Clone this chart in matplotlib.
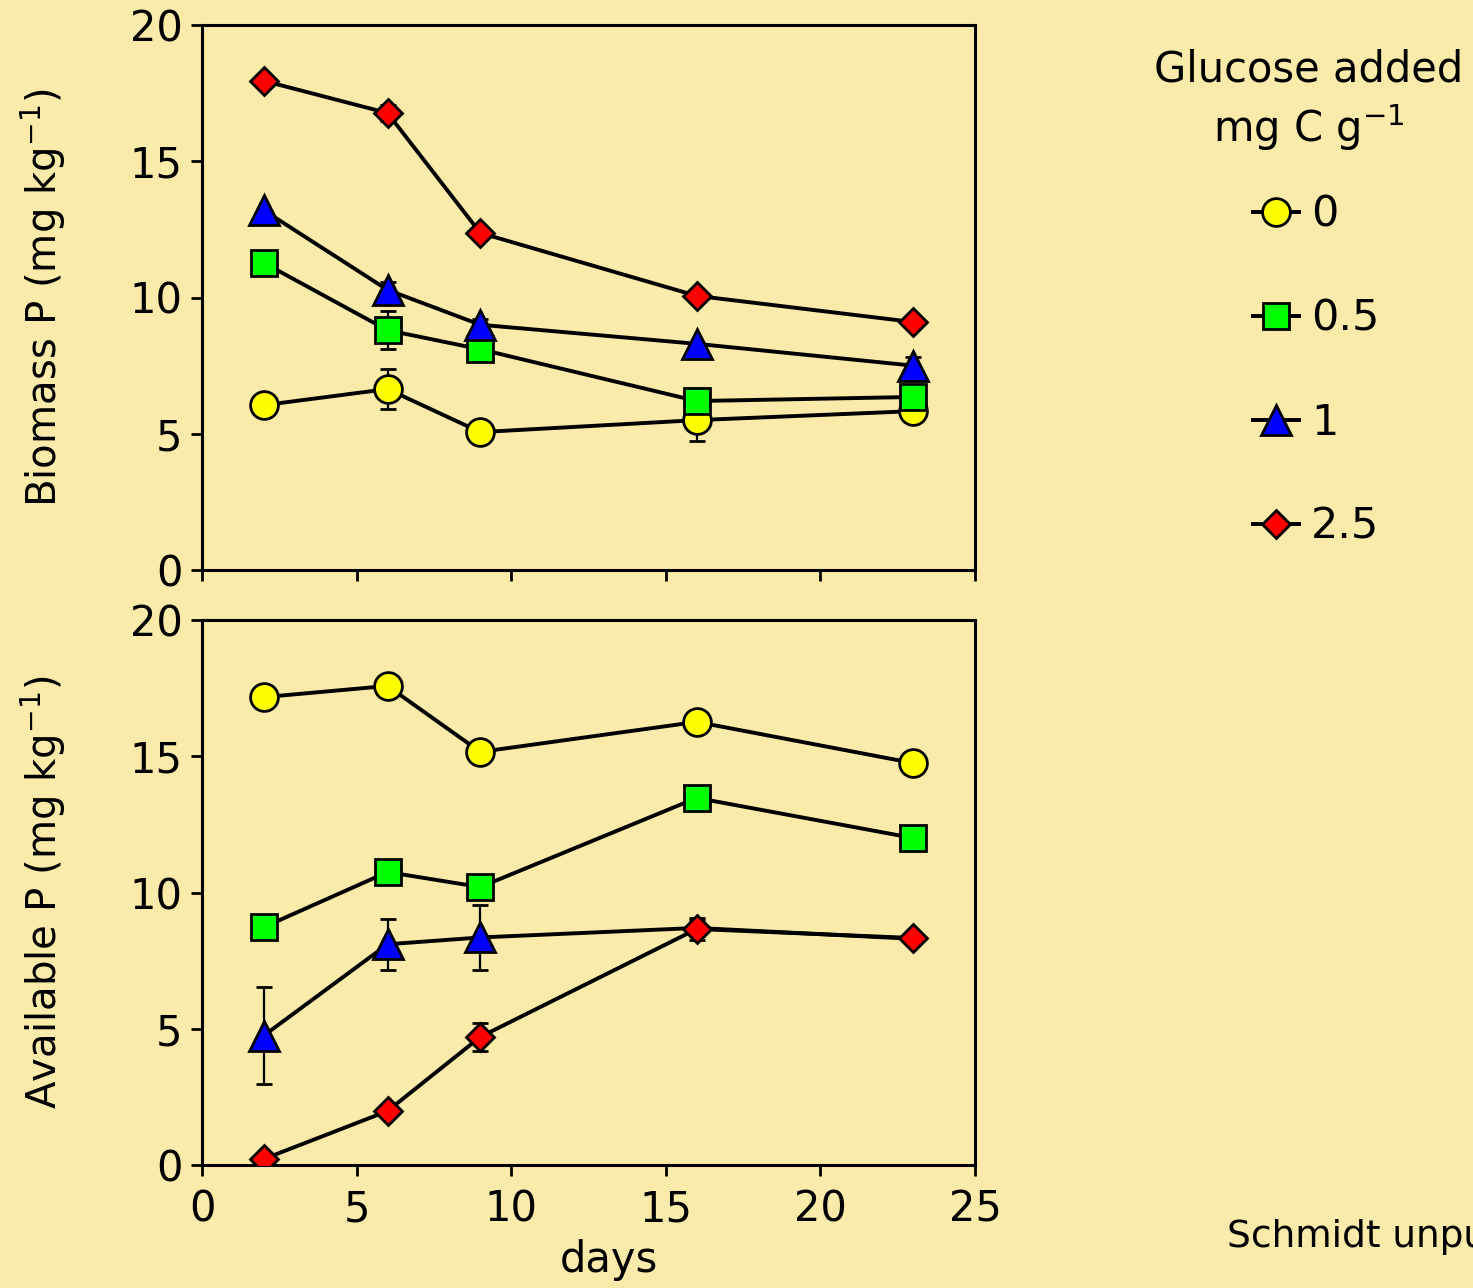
import matplotlib
matplotlib.use('Agg')
import matplotlib.pyplot as plt
import numpy as np

plt.rcParams['font.family'] = ['DejaVu Sans']
plt.rcParams['mathtext.fontset'] = 'dejavusans'

days = [2, 6, 9, 16, 23]
doses = ['0', '0.5', '1', '2.5']

# biomass P (mg/kg)
bio = {
    '0':   [6.05, 6.64, 5.06, 5.5, 5.83],
    '0.5': [11.27, 8.8, 8.1, 6.2, 6.35],
    '1':   [13.2, 10.28, 9.0, 8.3, 7.5],
    '2.5': [17.95, 16.77, 12.37, 10.06, 9.1],
}
bio_err = {
    '0':   [0, 0.75, 0, 0.75, 0.2],
    '0.5': [0, 0.7, 0, 0.3, 0],
    '1':   [0, 0.3, 0.2, 0, 0.3],
    '2.5': [0, 0.3, 0, 0, 0],
}

# available P (mg/kg)
avail = {
    '0':   [17.17, 17.58, 15.16, 16.26, 14.75],
    '0.5': [8.73, 10.75, 10.2, 13.47, 12.0],
    '1':   [4.75, 8.1, 8.35, 8.7, 8.3],
    '2.5': [0.22, 1.98, 4.7, 8.66, 8.33],
}
avail_err = {
    '0':   [0, 0, 0, 0, 0],
    '0.5': [0, 0.35, 0, 0.3, 0],
    '1':   [1.78, 0.93, 1.19, 0.3, 0],
    '2.5': [0, 0, 0.5, 0.4, 0],
}

styles = {
    '0':   dict(marker='o', color='#FFFF00', ms=20),
    '0.5': dict(marker='s', color='#00FF00', ms=19),
    '1':   dict(marker='^', color='#0000FF', ms=21),
    '2.5': dict(marker='D', color='#FF0000', ms=14),
}

bg = '#FAEBAA'
W, H = 1473, 1288
fig = plt.figure(figsize=(W / 100, H / 100), dpi=100, facecolor=bg)

ax1 = fig.add_axes([202 / W, 1 - 570 / H, 773 / W, 545 / H], facecolor=bg)
ax2 = fig.add_axes([202 / W, 1 - 1165 / H, 773 / W, 545 / H], facecolor=bg)

handles = []
for ax, data, err in [(ax1, bio, bio_err), (ax2, avail, avail_err)]:
    for d in doses:
        st = styles[d]
        ax.errorbar(days, data[d], yerr=err[d], fmt='none', ecolor='black',
                    elinewidth=1.6, capsize=5.5, capthick=2, zorder=2)
        # in the lower panel the last blue points sit under the red ones
        every = [0, 1, 2] if (ax is ax2 and d == '1') else None
        ln, = ax.plot(days, data[d], color='black', lw=2.8, marker=st['marker'],
                      ms=st['ms'], mfc=st['color'], mec='black', mew=2,
                      markevery=every, zorder=3)
        if ax is ax1:
            handles.append(ln)
    ax.set_xlim(0, 25)
    ax.set_ylim(0, 20)
    ax.set_xticks([0, 5, 10, 15, 20, 25])
    ax.set_yticks([0, 5, 10, 15, 20])
    ax.tick_params(direction='out', length=8, width=2, labelsize=30, pad=6)
    ax.tick_params(axis='x', pad=9)
    for s in ax.spines.values():
        s.set_linewidth(2.2)

ax1.tick_params(axis='x', labelbottom=False)
ax1.set_ylabel('Biomass P (mg kg$^{-1}$)', fontsize=29, labelpad=44)
ax2.set_ylabel('Available P (mg kg$^{-1}$)', fontsize=29, labelpad=44)
ax2.set_xlabel('days', fontsize=30)
ax2.xaxis.set_label_coords((609 - 202) / 773, -0.135)

# legend title
fig.text(1309 / W, 1 - 70 / H, 'Glucose added', fontsize=30, ha='center', va='center')
fig.text(1309 / W, 1 - 128 / H, 'mg C g$^{-1}$', fontsize=30, ha='center', va='center')

leg = fig.legend(handles, doses, loc='upper left',
                 bbox_to_anchor=(1214 / W, 1 - 155 / H), frameon=False,
                 fontsize=31, handlelength=1.07, handletextpad=0.28,
                 labelspacing=1.44, markerscale=1.0, borderpad=0.4)

fig.text(1227 / W, 1 - 1237 / H, 'Schmidt unpublished', fontsize=27,
         va='center', ha='left')

fig.savefig('out.png', dpi=100, facecolor=bg)
